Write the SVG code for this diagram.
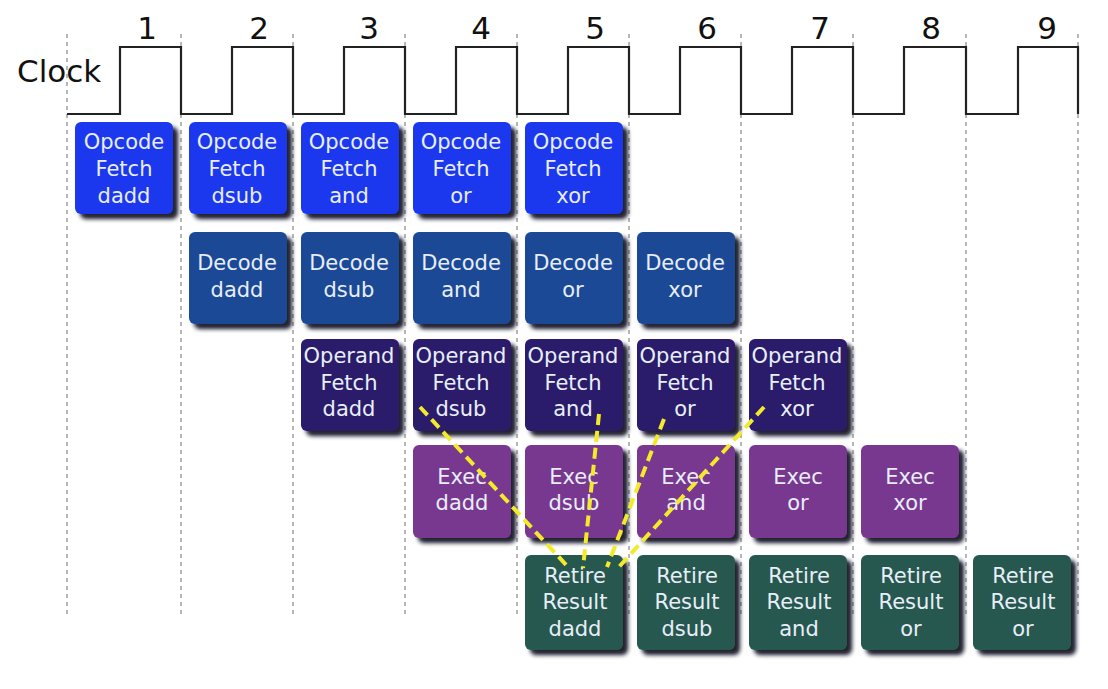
<svg xmlns="http://www.w3.org/2000/svg" width="1108" height="689" viewBox="0 0 1108 689">
<style>
.grid{stroke:#888;stroke-width:1.2;stroke-dasharray:4 4;fill:none}
.clk{stroke:#222;stroke-width:2.2;fill:none}
.lbl{font-family:"DejaVu Sans",sans-serif;font-size:31px;fill:#111}
.bx{filter:url(#sh)}
.t{font-family:"DejaVu Sans",sans-serif;font-size:21px;fill:#e8eef8;text-anchor:middle}
.of{fill:#1a38ee}
.dc{fill:#1b4896}
.op{fill:#2b1a6a}
.ex{fill:#793990}
.rt{fill:#27594f}
.yl{stroke:#f2ea2a;stroke-width:4;stroke-dasharray:11 6;fill:none}
</style>
<defs>
<filter id="sh" x="-20%" y="-20%" width="150%" height="150%">
<feGaussianBlur in="SourceAlpha" stdDeviation="2.2"/>
<feOffset dx="5" dy="5" result="o"/>
<feFlood flood-color="#080818" flood-opacity="0.92"/>
<feComposite in2="o" operator="in"/>
<feMerge><feMergeNode/><feMergeNode in="SourceGraphic"/></feMerge>
</filter>
</defs>
<rect width="1108" height="689" fill="#fff"/>
<g id="grid">
<line class="grid" x1="67" y1="34" x2="67" y2="616"/>
<line class="grid" x1="181" y1="34" x2="181" y2="616"/>
<line class="grid" x1="293" y1="34" x2="293" y2="616"/>
<line class="grid" x1="405" y1="34" x2="405" y2="616"/>
<line class="grid" x1="517" y1="34" x2="517" y2="616"/>
<line class="grid" x1="629" y1="34" x2="629" y2="616"/>
<line class="grid" x1="741" y1="34" x2="741" y2="616"/>
<line class="grid" x1="853" y1="34" x2="853" y2="616"/>
<line class="grid" x1="966" y1="34" x2="966" y2="616"/>
<line class="grid" x1="1078" y1="34" x2="1078" y2="616"/>
</g>
<g id="clock">
<text class="lbl" x="17" y="82">Clock</text>
<path class="clk" d="M67 114H120V47H181V114H232V47H293V114H344V47H405V114H456V47H517V114H568V47H629V114H680V47H741V114H792V47H853V114H904V47H966V114H1018V47H1078V114"/>
<g class="lbl" text-anchor="middle">
<text x="147" y="39">1</text>
<text x="259" y="39">2</text>
<text x="369" y="39">3</text>
<text x="481" y="39">4</text>
<text x="595" y="39">5</text>
<text x="707" y="39">6</text>
<text x="820" y="39">7</text>
<text x="931" y="39">8</text>
<text x="1047" y="39">9</text>
</g>
</g>
<g id="opfetch">
<g id="of1"><rect class="bx of" x="75" y="122" width="98" height="92" rx="6"/><text class="t" x="124" y="149">Opcode</text><text class="t" x="124" y="176">Fetch</text><text class="t" x="124" y="203">dadd</text></g>
<g id="of2"><rect class="bx of" x="189" y="122" width="98" height="92" rx="6"/><text class="t" x="237" y="149">Opcode</text><text class="t" x="237" y="176">Fetch</text><text class="t" x="237" y="203">dsub</text></g>
<g id="of3"><rect class="bx of" x="301" y="122" width="98" height="92" rx="6"/><text class="t" x="349" y="149">Opcode</text><text class="t" x="349" y="176">Fetch</text><text class="t" x="349" y="203">and</text></g>
<g id="of4"><rect class="bx of" x="413" y="122" width="98" height="92" rx="6"/><text class="t" x="461" y="149">Opcode</text><text class="t" x="461" y="176">Fetch</text><text class="t" x="461" y="203">or</text></g>
<g id="of5"><rect class="bx of" x="525" y="122" width="98" height="92" rx="6"/><text class="t" x="573" y="149">Opcode</text><text class="t" x="573" y="176">Fetch</text><text class="t" x="573" y="203">xor</text></g>
</g>
<g id="decode">
<g id="dc1"><rect class="bx dc" x="189" y="232" width="98" height="92" rx="6"/><text class="t" x="237" y="270">Decode</text><text class="t" x="237" y="297">dadd</text></g>
<g id="dc2"><rect class="bx dc" x="301" y="232" width="98" height="92" rx="6"/><text class="t" x="349" y="270">Decode</text><text class="t" x="349" y="297">dsub</text></g>
<g id="dc3"><rect class="bx dc" x="413" y="232" width="98" height="92" rx="6"/><text class="t" x="461" y="270">Decode</text><text class="t" x="461" y="297">and</text></g>
<g id="dc4"><rect class="bx dc" x="525" y="232" width="98" height="92" rx="6"/><text class="t" x="573" y="270">Decode</text><text class="t" x="573" y="297">or</text></g>
<g id="dc5"><rect class="bx dc" x="637" y="232" width="98" height="92" rx="6"/><text class="t" x="685" y="270">Decode</text><text class="t" x="685" y="297">xor</text></g>
</g>
<g id="operand">
<g id="op1"><rect class="bx op" x="301" y="339" width="98" height="92" rx="6"/><text class="t" x="349" y="363">Operand</text><text class="t" x="349" y="390">Fetch</text><text class="t" x="349" y="416">dadd</text></g>
<g id="op2"><rect class="bx op" x="413" y="339" width="98" height="92" rx="6"/><text class="t" x="461" y="363">Operand</text><text class="t" x="461" y="390">Fetch</text><text class="t" x="461" y="416">dsub</text></g>
<g id="op3"><rect class="bx op" x="525" y="339" width="98" height="92" rx="6"/><text class="t" x="573" y="363">Operand</text><text class="t" x="573" y="390">Fetch</text><text class="t" x="573" y="416">and</text></g>
<g id="op4"><rect class="bx op" x="637" y="339" width="98" height="92" rx="6"/><text class="t" x="685" y="363">Operand</text><text class="t" x="685" y="390">Fetch</text><text class="t" x="685" y="416">or</text></g>
<g id="op5"><rect class="bx op" x="749" y="339" width="98" height="92" rx="6"/><text class="t" x="797" y="363">Operand</text><text class="t" x="797" y="390">Fetch</text><text class="t" x="797" y="416">xor</text></g>
</g>
<g id="exec">
<g id="ex1"><rect class="bx ex" x="413" y="445" width="98" height="93" rx="6"/><text class="t" x="462" y="484">Exec</text><text class="t" x="462" y="510">dadd</text></g>
<g id="ex2"><rect class="bx ex" x="525" y="445" width="98" height="93" rx="6"/><text class="t" x="574" y="484">Exec</text><text class="t" x="574" y="510">dsub</text></g>
<g id="ex3"><rect class="bx ex" x="637" y="445" width="98" height="93" rx="6"/><text class="t" x="686" y="484">Exec</text><text class="t" x="686" y="510">and</text></g>
<g id="ex4"><rect class="bx ex" x="749" y="445" width="98" height="93" rx="6"/><text class="t" x="798" y="484">Exec</text><text class="t" x="798" y="510">or</text></g>
<g id="ex5"><rect class="bx ex" x="861" y="445" width="98" height="93" rx="6"/><text class="t" x="910" y="484">Exec</text><text class="t" x="910" y="510">xor</text></g>
</g>
<g id="retire">
<g id="rt1"><rect class="bx rt" x="525" y="555" width="98" height="95" rx="6"/><text class="t" x="575" y="583">Retire</text><text class="t" x="575" y="609">Result</text><text class="t" x="575" y="636">dadd</text></g>
<g id="rt2"><rect class="bx rt" x="637" y="555" width="98" height="95" rx="6"/><text class="t" x="687" y="583">Retire</text><text class="t" x="687" y="609">Result</text><text class="t" x="687" y="636">dsub</text></g>
<g id="rt3"><rect class="bx rt" x="749" y="555" width="98" height="95" rx="6"/><text class="t" x="799" y="583">Retire</text><text class="t" x="799" y="609">Result</text><text class="t" x="799" y="636">and</text></g>
<g id="rt4"><rect class="bx rt" x="861" y="555" width="98" height="95" rx="6"/><text class="t" x="911" y="583">Retire</text><text class="t" x="911" y="609">Result</text><text class="t" x="911" y="636">or</text></g>
<g id="rt5"><rect class="bx rt" x="973" y="555" width="98" height="95" rx="6"/><text class="t" x="1023" y="583">Retire</text><text class="t" x="1023" y="609">Result</text><text class="t" x="1023" y="636">or</text></g>
</g>
<g id="connectors">
<line class="yl" x1="420" y1="407" x2="569" y2="568"/>
<line class="yl" x1="599" y1="414" x2="583" y2="568"/>
<line class="yl" x1="664" y1="419" x2="607" y2="567"/>
<line class="yl" x1="764" y1="407" x2="618" y2="568"/>
</g>
</svg>
